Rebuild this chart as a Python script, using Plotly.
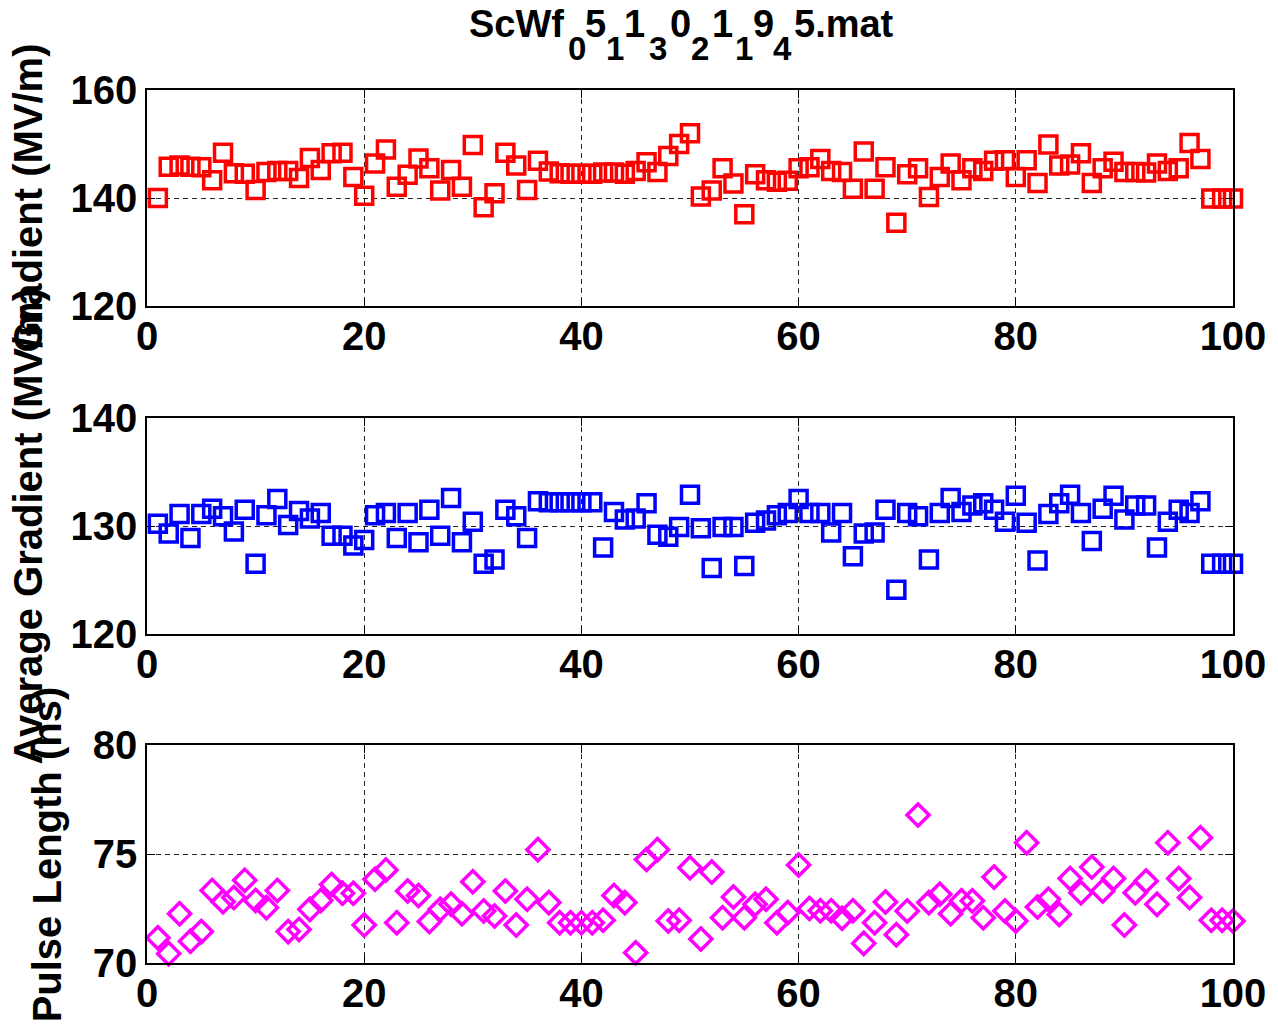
import plotly.graph_objects as go
from plotly.subplots import make_subplots

shots = list(range(1, 101))

gradient = [140.0, 145.8, 146.0, 145.8, 145.7, 143.3, 148.4, 144.6, 144.5, 141.5,
            144.8, 145.0, 145.0, 143.7, 147.4, 145.2, 148.3, 148.4, 143.9, 140.4,
            146.4, 149.0, 142.1, 144.3, 147.3, 145.5, 141.4, 145.2, 142.1, 149.8,
            138.3, 140.9, 148.4, 146.0, 141.5, 146.9, 144.9, 144.6, 144.5, 144.5,
            144.5, 144.7, 144.7, 144.5, 145.0, 146.6, 144.8, 147.8, 150.0, 152.0,
            140.3, 141.4, 145.5, 142.7, 137.0, 144.4, 143.3, 143.0, 143.2, 145.5,
            145.7, 147.2, 145.0, 144.8, 141.7, 148.6, 141.7, 145.7, 135.4, 144.4,
            145.5, 140.2, 143.9, 146.4, 143.3, 145.5, 145.0, 146.9, 147.0, 143.9,
            147.0, 142.8, 149.9, 146.0, 146.2, 148.3, 142.8, 145.5, 146.7, 144.8,
            144.8, 144.7, 146.4, 145.0, 145.5, 150.2, 147.2, 139.9, 139.9, 139.9]

avg_gradient = [130.2, 129.3, 131.1, 128.9, 131.1, 131.6, 130.9, 129.5, 131.5, 126.5,
                131.0, 132.5, 130.1, 131.4, 130.7, 131.2, 129.1, 129.1, 128.2, 128.7,
                131.0, 131.2, 128.9, 131.2, 128.5, 131.5, 129.1, 132.6, 128.5, 130.4,
                126.5, 126.9, 131.5, 130.9, 128.9, 132.3, 132.2, 132.2, 132.2, 132.2,
                132.2, 128.0, 131.3, 130.6, 130.7, 132.1, 129.2, 129.0, 129.9, 132.9,
                129.8, 126.1, 129.9, 129.9, 126.3, 130.3, 130.5, 131.0, 131.2, 132.5,
                131.2, 131.2, 129.4, 131.2, 127.2, 129.3, 129.4, 131.5, 124.1, 131.2,
                130.9, 126.9, 131.2, 132.6, 131.3, 131.9, 132.1, 131.5, 130.4, 132.8,
                130.3, 126.8, 131.1, 132.1, 132.9, 131.2, 128.6, 131.6, 132.8, 130.6,
                131.9, 131.9, 128.0, 130.4, 131.5, 131.2, 132.3, 126.5, 126.5, 126.5]

pulse_length = [71.16, 70.43, 72.26, 71.0, 71.44, 73.33, 72.81, 73.0, 73.8, 72.87,
                72.54, 73.33, 71.44, 71.54, 72.46, 72.87, 73.6, 73.2, 73.2, 71.74,
                73.84, 74.27, 71.85, 73.3, 73.1, 71.9, 72.46, 72.7, 72.26, 73.73,
                72.39, 72.16, 73.3, 71.74, 72.92, 75.2, 72.77, 71.85, 71.85, 71.85,
                71.85, 71.96, 73.1, 72.77, 70.47, 74.75, 75.2, 71.93, 71.96, 74.37,
                71.1, 74.17, 72.08, 73.03, 72.08, 72.69, 72.92, 71.85, 72.31, 74.5,
                72.5, 72.4, 72.4, 72.05, 72.4, 70.9, 71.85, 72.8, 71.3, 72.39,
                76.79, 72.77, 73.15, 72.26, 72.85, 72.85, 72.08, 73.94, 72.39, 71.93,
                75.52, 72.57, 72.92, 72.23, 73.88, 73.22, 74.4, 73.3, 73.88, 71.74,
                73.22, 73.76, 72.69, 75.52, 73.88, 73.0, 75.75, 71.96, 71.96, 71.93]

x_ticks = [0, 20, 40, 60, 80, 100]
y_ranges = [[120, 160], [120, 140], [70, 80]]
y_dticks = [20, 10, 5]
y_titles = ["Gradient (MV/m)", "Average Gradient (MV/m)", "Pulse Length (ns)"]
# title "ScWf_0 5_1 1_3 0_2 1_1 9_4 5.mat": (text, is_subscript)
title_parts = [("ScWf", False), ("0", True), ("5", False), ("1", True), ("1", False),
               ("3", True), ("0", False), ("2", True), ("1", False), ("1", True),
               ("9", False), ("4", True), ("5.mat", False)]
title_left_px = [470, 569.5, 587, 607.5, 626, 651, 671.5, 693, 714, 737.5, 755.5, 775, 796]

FONT = "Liberation Sans, Arial, Helvetica, sans-serif"
OFF = 8  # page body margin
W, H = 1278 - OFF, 1032 - OFF
L, R, T, B = 147 - OFF, 1237 - OFF, 90 - OFF, 963 - OFF
ph = B - T

def ydom(top, bot):
    top -= OFF
    bot -= OFF
    return [(B - bot) / ph, (B - top) / ph]

fig = make_subplots(rows=3, cols=1)

series = [
    (gradient, "#FF0000", "square", 17),
    (avg_gradient, "#0000FF", "square", 17),
    (pulse_length, "#FF00FF", "diamond", 17),
]
for i, (vals, col, sym, sz) in enumerate(series):
    fig.add_trace(go.Scatter(
        x=shots, y=vals, mode="markers",
        marker=dict(symbol=sym + "-open", size=sz, color=col,
                    line=dict(color=col, width=3.5)),
        showlegend=False, cliponaxis=False,
    ), row=i + 1, col=1)

domains = [ydom(90, 306), ydom(418, 634), ydom(745, 963)]
axis_common = dict(
    showline=True, linecolor="black", linewidth=1.5, mirror="ticks",
    ticks="inside", ticklen=8, tickcolor="black", tickwidth=1,
    showgrid=True, gridcolor="rgba(0,0,0,0.85)", gridwidth=1, griddash="5px,4px",
    zeroline=False,
    tickfont=dict(family=FONT, size=40, color="black", weight="bold"),
)
for i in range(3):
    fig.update_xaxes(range=[0, 100], tickvals=x_ticks, ticklabelstandoff=-6,
                     **axis_common, row=i + 1, col=1)
    fig.update_yaxes(range=y_ranges[i], dtick=y_dticks[i], domain=domains[i],
                     **axis_common, row=i + 1, col=1)

label_x = [28, 28, 47]
label_y = [198, 526, 854]
for i in range(3):
    fig.add_annotation(
        text=y_titles[i], textangle=-90, showarrow=False,
        xref="paper", yref="paper",
        x=(label_x[i] - OFF - L) / (R - L), y=(B - (label_y[i] - OFF)) / ph,
        xanchor="center", yanchor="middle",
        font=dict(family=FONT, size=40, color="black", weight="bold"),
    )

# title drawn piecewise so the subscripts sit as low as in the reference
for (txt, is_sub), px in zip(title_parts, title_left_px):
    size = 33 if is_sub else 38
    bottom_px = 67 if is_sub else 45.5  # text-box bottom (baseline + descent), screen px
    fig.add_annotation(
        text=txt, showarrow=False, xref="paper", yref="paper",
        x=(px - OFF - L) / (R - L), y=(B - (bottom_px - OFF)) / ph,
        xanchor="left", yanchor="bottom", borderpad=0, borderwidth=0,
        font=dict(family=FONT, size=size, color="black", weight="bold"),
    )

fig.update_layout(
    width=W, height=H,
    margin=dict(l=L, r=W - R, t=T, b=H - B),
    paper_bgcolor="white", plot_bgcolor="white",
)

fig.write_html("out.html")
